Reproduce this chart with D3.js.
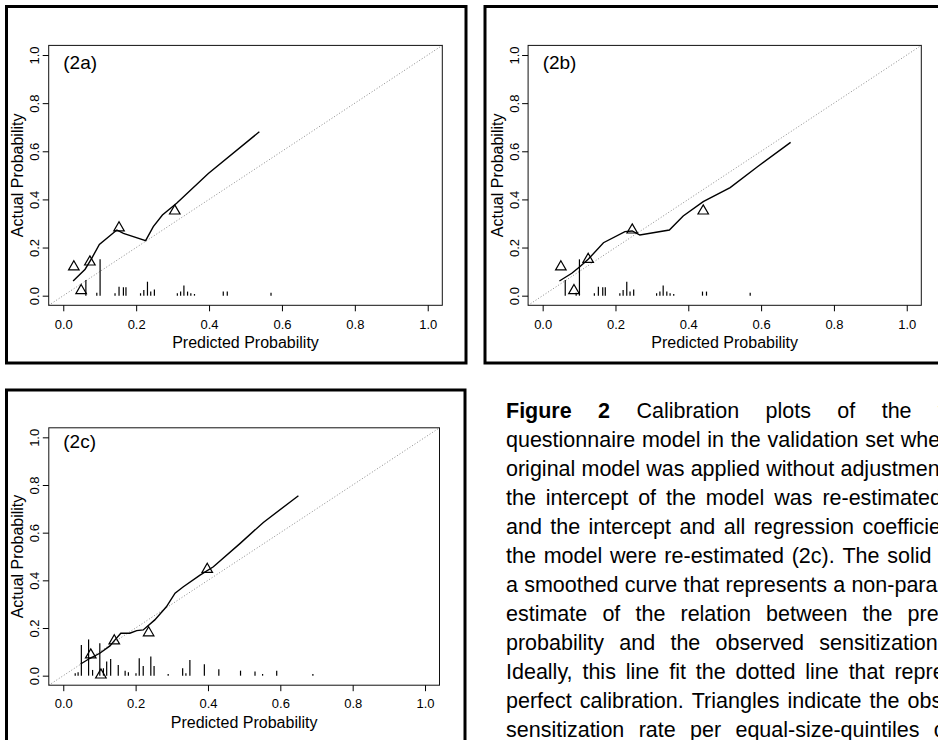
<!DOCTYPE html>
<html>
<head>
<meta charset="utf-8">
<script src="https://cdn.jsdelivr.net/npm/d3@7"></script>
<style>
body { margin: 0; overflow: hidden; background: #fff; }
svg text { font-family: Arial, "Liberation Sans", Helvetica, sans-serif; }
</style>
</head>
<body>
<svg id="fig" width="938" height="740"></svg>
<script>
////////////////////////////////////////////////////////////////////////
// Data

const tickValues = [0, 0.2, 0.4, 0.6, 0.8, 1.0];
const xTitle = "Predicted Probability";
const yTitle = "Actual Probability";
const panelLabels = ["(2a)", "(2b)", "(2c)"];

// smoothed calibration curves, [predicted, actual]
const curveA = [[0.027, 0.061], [0.06, 0.11], [0.078, 0.155], [0.099, 0.213], [0.147, 0.273],
  [0.165, 0.259], [0.226, 0.229], [0.247, 0.287], [0.272, 0.335], [0.311, 0.384],
  [0.398, 0.508], [0.538, 0.681]];
const curveB = [[0.046, 0.061], [0.080, 0.093], [0.102, 0.12], [0.125, 0.151], [0.167, 0.220],
  [0.226, 0.266], [0.246, 0.269], [0.267, 0.252], [0.348, 0.273], [0.386, 0.331],
  [0.441, 0.391], [0.515, 0.449], [0.590, 0.536], [0.681, 0.637]];
const curveC = [[0.048, 0.049], [0.074, 0.073], [0.101, 0.094], [0.129, 0.125], [0.143, 0.150],
  [0.159, 0.178], [0.184, 0.178], [0.203, 0.189], [0.221, 0.192], [0.253, 0.234],
  [0.285, 0.289], [0.309, 0.346], [0.332, 0.373], [0.378, 0.422], [0.415, 0.457],
  [0.489, 0.555], [0.553, 0.643], [0.650, 0.755]];

// observed rate per quintile (triangles)
const triA = [[0.029, 0.12], [0.049, 0.021], [0.073, 0.14], [0.153, 0.282], [0.306, 0.352]];
const triB = [[0.050, 0.12], [0.086, 0.021], [0.125, 0.151], [0.246, 0.273], [0.441, 0.352]];
const triC = [[0.076, 0.087], [0.104, 0.003], [0.141, 0.146], [0.236, 0.18], [0.398, 0.446]];

// spike histogram of predictions, [predicted, relative height]
const rugAB = [[0.062, 0.065], [0.092, 0.012], [0.101, 0.151], [0.142, 0.010], [0.153, 0.037],
  [0.165, 0.035], [0.172, 0.035], [0.212, 0.010], [0.221, 0.024], [0.231, 0.058],
  [0.240, 0.017], [0.250, 0.026], [0.313, 0.010], [0.322, 0.017], [0.331, 0.042],
  [0.341, 0.017], [0.350, 0.010], [0.360, 0.007], [0.439, 0.017], [0.450, 0.017],
  [0.570, 0.012]];
const rugC = [[0.033, 0.010], [0.041, 0.014], [0.050, 0.129], [0.070, 0.152], [0.081, 0.024],
  [0.101, 0.136], [0.111, 0.031], [0.120, 0.059], [0.131, 0.070], [0.152, 0.045],
  [0.171, 0.021], [0.180, 0.014], [0.201, 0.010], [0.210, 0.073], [0.221, 0.041],
  [0.242, 0.080], [0.251, 0.041], [0.290, 0.007], [0.330, 0.031], [0.339, 0.010],
  [0.350, 0.066], [0.390, 0.048], [0.430, 0.027], [0.490, 0.021], [0.530, 0.017],
  [0.551, 0.007], [0.590, 0.021], [0.690, 0.007]];

// caption, one entry per printed line (the page cuts each line at its right edge)
const captionLines = [
  "Figure 2 Calibration plots of the validated",
  "questionnaire model in the validation set where the",
  "original model was applied without adjustment (2a),",
  "the intercept of the model was re-estimated (2b),",
  "and the intercept and all regression coefficients of",
  "the model were re-estimated (2c). The solid line is",
  "a smoothed curve that represents a non-parametric",
  "estimate of the relation between the predicted",
  "probability and the observed sensitization rate.",
  "Ideally, this line fit the dotted line that represents",
  "perfect calibration. Triangles indicate the observed",
  "sensitization rate per equal-size-quintiles of the"
];
const boldWords = 2;

////////////////////////////////////////////////////////////////////////
// Layout

const svg = d3.select("#fig");

const panels = [
  {label: panelLabels[0], frame: [6.5, 6.5, 466, 363], xr: [48.7, 442.3], yr: [305.3, 45.4],
   labelY: 0.94, curve: curveA, tri: triA, rug: rugAB},
  {label: panelLabels[1], frame: [485, 6.5, 950, 363], xr: [528.1, 921.3], yr: [305.3, 45.4],
   labelY: 0.94, curve: curveB, tri: triB, rug: rugAB},
  {label: panelLabels[2], frame: [6.5, 390, 465, 760], xr: [48.8, 439.5], yr: [685.2, 427.8],
   labelY: 0.955, curve: curveC, tri: triC, rug: rugC}
];

function drawPanel(p) {
  const x = d3.scaleLinear().domain([-0.04, 1.04]).range(p.xr);
  const y = d3.scaleLinear().domain([-0.04, 1.04]).range(p.yr);
  const g = svg.append("g");

  // outer frame
  g.append("rect")
    .attr("x", p.frame[0]).attr("y", p.frame[1])
    .attr("width", p.frame[2] - p.frame[0]).attr("height", p.frame[3] - p.frame[1])
    .attr("fill", "none").attr("stroke", "#000").attr("stroke-width", 3);

  // ideal line
  g.append("line")
    .attr("x1", x(-0.04)).attr("y1", y(-0.04))
    .attr("x2", x(1.04)).attr("y2", y(1.04))
    .attr("stroke", "#8a8a8a").attr("stroke-width", 1)
    .attr("stroke-dasharray", "1,2");

  // spikes
  g.append("g").selectAll("line")
    .data(p.rug)
    .join("line")
    .attr("x1", d => x(d[0])).attr("x2", d => x(d[0]))
    .attr("y1", y(0)).attr("y2", d => y(d[1]))
    .attr("stroke", "#000").attr("stroke-width", 1.2);

  // smoothed curve
  g.append("path")
    .datum(p.curve)
    .attr("d", d3.line().x(d => x(d[0])).y(d => y(d[1])))
    .attr("fill", "none").attr("stroke", "#000").attr("stroke-width", 1.4);

  // triangles
  g.append("g").selectAll("path")
    .data(p.tri)
    .join("path")
    .attr("d", d3.symbol(d3.symbolTriangle, 48))
    .attr("transform", d => `translate(${x(d[0])},${y(d[1])})`)
    .attr("fill", "none").attr("stroke", "#000").attr("stroke-width", 1.2);

  // plot box
  g.append("rect")
    .attr("x", p.xr[0]).attr("y", p.yr[1])
    .attr("width", p.xr[1] - p.xr[0]).attr("height", p.yr[0] - p.yr[1])
    .attr("fill", "none").attr("stroke", "#111").attr("stroke-width", 1);

  // axes
  const xa = g.append("g")
    .attr("transform", `translate(0,${p.yr[0]})`)
    .call(d3.axisBottom(x).tickValues(tickValues).tickSize(6).tickPadding(8)
      .tickFormat(d3.format(".1f")))
    .attr("font-size", 13);
  xa.select(".domain").remove();

  const ya = g.append("g")
    .attr("transform", `translate(${p.xr[0]},0)`)
    .call(d3.axisLeft(y).tickValues(tickValues).tickSize(6)
      .tickFormat(d3.format(".1f")))
    .attr("font-size", 13);
  ya.select(".domain").remove();
  ya.selectAll("text")
    .attr("x", null).attr("dy", null)
    .attr("text-anchor", "middle")
    .attr("transform", "translate(-9.5,0) rotate(-90)");

  // titles
  g.append("text")
    .attr("x", x(0.5)).attr("y", p.yr[0] + 43)
    .attr("text-anchor", "middle").attr("font-size", 16)
    .text(xTitle);
  g.append("text")
    .attr("transform", `translate(${p.xr[0] - 25.5},${y(0.5)}) rotate(-90)`)
    .attr("text-anchor", "middle").attr("font-size", 16)
    .text(yTitle);

  // panel label
  g.append("text")
    .attr("x", x(0)).attr("y", y(p.labelY))
    .attr("font-size", 19)
    .text(p.label);
}

panels.forEach(drawPanel);

////////////////////////////////////////////////////////////////////////
// Justified caption

const capX = 506, capW = 490, capY = 417.5, capLead = 29, capSize = 21.5;
// first line is spread wider in the print than the rest
const capWidths = {0: 518};

captionLines.forEach((line, i) => {
  const words = line.split(" ");
  const w = capWidths[i] || capW;
  const texts = words.map((word, j) => svg.append("text")
    .attr("y", capY + i * capLead)
    .attr("font-size", capSize)
    .attr("font-weight", i === 0 && j < boldWords ? "bold" : null)
    .text(word));
  const widths = texts.map(t => t.node().getComputedTextLength());
  const total = d3.sum(widths);
  let gap = (w - total) / (words.length - 1);
  if (gap < capSize * 0.278) gap = capSize * 0.278;
  let cx = capX;
  texts.forEach((t, j) => {
    t.attr("x", cx);
    cx += widths[j] + gap;
  });
});
</script>
</body>
</html>
